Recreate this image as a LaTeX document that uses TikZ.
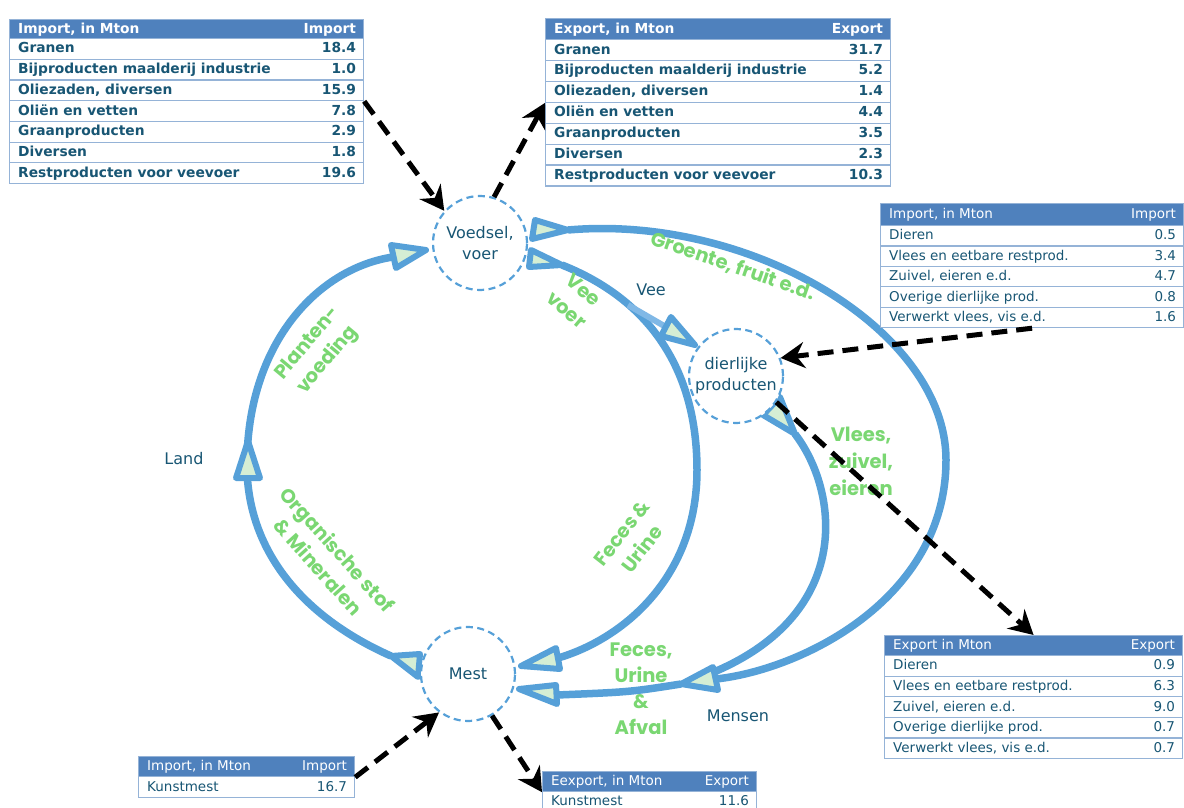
\documentclass[tikz,border=0pt]{standalone}
\usepackage{fontspec}
\setmainfont{DejaVu Sans}
\newfontfamily\gfont{Poppins}
\usetikzlibrary{arrows.meta}
\definecolor{flowblue}{RGB}{86,160,216}
\definecolor{veeblue}{RGB}{128,184,230}
\definecolor{trifill}{RGB}{213,238,212}
\definecolor{lblgreen}{RGB}{122,215,114}
\definecolor{txtteal}{RGB}{24,86,116}
\definecolor{hdrblue}{RGB}{79,129,189}
\definecolor{rowline}{RGB}{149,179,215}
\tikzset{
  flow/.style={draw=flowblue, line width=7.5pt},
  veeflow/.style={draw=veeblue, line width=6pt},
  tri/.style={draw=flowblue, line width=6pt, line join=round, fill=trifill},
  circ/.style={circle, draw=flowblue, dash pattern=on 7pt off 4.5pt, line width=2.2pt, minimum size=94pt, inner sep=0pt, fill=white, text=txtteal, font=\fontsize{16}{21}\selectfont, align=center},
  lbl/.style={text=txtteal, font=\fontsize{16}{20}\selectfont, inner sep=0pt},
  glbl/.style={text=lblgreen, font=\gfont\bfseries\fontsize{19.5}{26}\selectfont, align=center, inner sep=0pt},
  dasharrow/.style={draw=black, line width=5pt, dash pattern=on 16pt off 9pt, -{Stealth[length=24pt, width=26pt, inset=8pt]}},
  hdrbox/.style={draw=rowline, line width=1.2pt, fill=hdrblue, inner sep=0pt},
  rowbox/.style={draw=rowline, line width=1.2pt, fill=white, inner sep=0pt},
  boldtab/.style={
    hdrtxt/.style={text=white, font=\bfseries\fontsize{13.8}{16}\selectfont, inner sep=0pt, text height=10.5pt, text depth=2.5pt},
    rowtxt/.style={text=txtteal, font=\bfseries\fontsize{13.8}{16}\selectfont, inner sep=0pt, text height=10.5pt, text depth=2.5pt}},
  plaintab/.style={
    hdrtxt/.style={text=white, font=\fontsize{13.5}{16}\selectfont, inner sep=0pt, text height=10.5pt, text depth=2.5pt},
    rowtxt/.style={text=txtteal, font=\fontsize{13.5}{16}\selectfont, inner sep=0pt, text height=10.5pt, text depth=2.5pt}},
}
% #1 name #2 x #3 y #4 width #5 header height #6 row height #7 header left #8 header right #9 rows
\newcommand{\mktab}[9]{%
  \node[hdrbox, anchor=north west, minimum width=#4pt, minimum height=#5pt] (#1-h) at (#2,#3) {};
  \node[hdrtxt, anchor=west] (#1-hl) at ([xshift=9pt]#1-h.west) {#7};
  \node[hdrtxt, anchor=east] (#1-hr) at ([xshift=-8pt]#1-h.east) {#8};
  \foreach [count=\i] \ra/\rb in {#9} {%
    \node[rowbox, anchor=north west, minimum width=#4pt, minimum height=#6pt] (#1-\i) at (#2,{#3+#5+(\i-1)*#6}) {};
    \node[rowtxt, anchor=west] (#1-\i-l) at ([xshift=9pt]#1-\i.west) {\ra};
    \node[rowtxt, anchor=east] (#1-\i-r) at ([xshift=-8pt]#1-\i.east) {\rb};
  }%
}
\begin{document}
\begin{tikzpicture}[x=1pt,y=-1pt]
\useasboundingbox (0,0) rectangle (1184,808);
\fill[white] (0,0) rectangle (1184,808);

% key points of the flows
\coordinate (t3tip) at (391,656);
\coordinate (land) at (247,460);
\coordinate (t1base) at (393,257);
\coordinate (t5tip) at (562,265);
\coordinate (veebend) at (697,470);
\coordinate (t9base) at (558,658);
\coordinate (t4tip) at (568,230);
\coordinate (cright) at (946,460);
\coordinate (t8base) at (716,679);
\coordinate (t8top) at (714,672);
\coordinate (t7tip) at (795,434);
\coordinate (t8tip) at (681,684);
\coordinate (t10base) at (557,695);
\coordinate (veefrom) at (628,305);
\coordinate (t6base) at (666,327);

% flows
\draw[flow] (t3tip) .. controls (292,612) and (245,540) .. (land)
  .. controls (249,340) and (320,268) .. (t1base);
\draw[flow] (t5tip) .. controls (650,300) and (697,370) .. (veebend)
  .. controls (697,580) and (620,640) .. (t9base);
\draw[veeflow] (veefrom) -- (t6base);
\draw[flow] (t4tip) .. controls (750,214) and (946,330) .. (cright)
  .. controls (946,600) and (800,670) .. (t8base);
\draw[flow] (t7tip) .. controls (838,490) and (855,612) .. (t8top);
\draw[flow] (t8tip) .. controls (630,692) .. (t10base);

% arrowheads
\draw[tri] (391,245) -- (396,268) -- (426,250) -- cycle;
\draw[tri] (248,441) -- (236,478) -- (260,478) -- cycle;
\draw[tri] (391,656) -- (420,654) -- (418,677) -- cycle;
\draw[tri] (535,220) -- (532,239) -- (568,230) -- cycle;
\draw[tri] (531,250) -- (529,267) -- (562,265) -- cycle;
\draw[tri] (671,317) -- (661,336) -- (695,345) -- cycle;
\draw[tri] (780,397) -- (763,415) -- (795,434) -- cycle;
\draw[tri] (713,667) -- (718,690) -- (681,684) -- cycle;
\draw[tri] (556,648) -- (560,669) -- (521,666) -- cycle;
\draw[tri] (556,685) -- (557,704) -- (519,689) -- cycle;

% stations
\node[circ] (voedsel) at (480,243) {Voedsel,\\voer};
\node[circ] (dier) at (736,376) {dierlijke\\producten};
\node[circ] (mest) at (468,674) {Mest};

\node[lbl] (landlbl) at (184,459) {Land};
\node[lbl] (veelbl) at (651,290) {Vee};
\node[lbl] (menslbl) at (738,716) {Mensen};

% flow labels
\node[glbl, rotate=50] (lplant) at (318,352) {Planten-\\voeding};
\node[glbl, rotate=-48] (lorg) at (328,558) {Organische stof\\\& Mineralen};
\node[glbl, rotate=-19] (lgroen) at (733,266) {Groente, fruit e.d.};
\node[glbl, rotate=-40] (lveev) at (575,300) {Vee\\voer};
\node[glbl, rotate=52] (lfeces) at (632,541) {Feces \&\\Urine};
\node[glbl, font=\gfont\bfseries\fontsize{19.5}{27}\selectfont] (lvlees) at (861,461) {Vlees,\\zuivel,\\eieren};
\node[glbl] (lafval) at (641,689) {Feces,\\Urine\\\&\\Afval};

% tables
\begin{scope}[boldtab]
\mktab{tabA}{9}{19}{354}{19}{20.7}{Import, in Mton}{Import}{Granen/18.4, Bijproducten maalderij industrie/1.0, {Oliezaden, diversen}/15.9, Oliën en vetten/7.8, Graanproducten/2.9, Diversen/1.8, Restproducten voor veevoer/19.6}
\mktab{tabB}{545}{18}{345}{21}{20.9}{Export, in Mton}{Export}{Granen/31.7, Bijproducten maalderij industrie/5.2, {Oliezaden, diversen}/1.4, Oliën en vetten/4.4, Graanproducten/3.5, Diversen/2.3, Restproducten voor veevoer/10.3}
\end{scope}
\begin{scope}[plaintab]
\mktab{tabC}{880}{203}{303}{22}{20.4}{Import, in Mton}{Import}{Dieren/0.5, Vlees en eetbare restprod./3.4, {Zuivel, eieren e.d.}/4.7, Overige dierlijke prod./0.8, {Verwerkt vlees, vis e.d.}/1.6}
\mktab{tabD}{884}{635}{298}{20}{20.6}{Export in Mton}{Export}{Dieren/0.9, Vlees en eetbare restprod./6.3, {Zuivel, eieren e.d.}/9.0, Overige dierlijke prod./0.7, {Verwerkt vlees, vis e.d.}/0.7}
\mktab{tabE}{138}{756}{216}{20}{21}{Import, in Mton}{Import}{Kunstmest/16.7}
\mktab{tabF}{542}{771}{214}{20}{20}{Eexport, in Mton}{Export}{Kunstmest/11.6}
\end{scope}

% trade arrows
\draw[dasharrow] (tabA-3.south east) -- (voedsel.138);
\draw[dasharrow] (voedsel.73) -- (tabB-3.south west);
\draw[dasharrow] (tabC-5.south) -- (dier.22);
\draw[dasharrow] (dier.-33) -- (tabD-h.north);
\draw[dasharrow] (tabE-h.south east) -- (mest.233);
\draw[dasharrow] (mest.-60) -- (tabF-h.south west);
\end{tikzpicture}
\end{document}
